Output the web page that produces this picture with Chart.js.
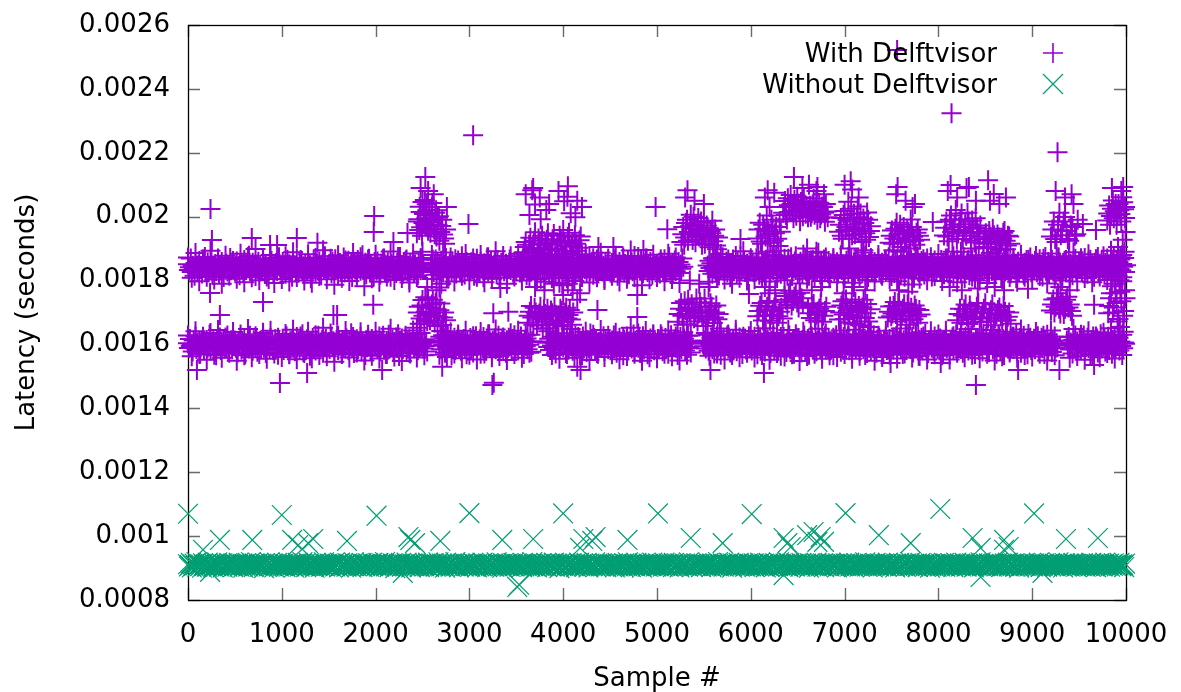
<!DOCTYPE html>
<html><head><meta charset="utf-8">
<script src="https://cdn.jsdelivr.net/npm/chart.js@4/dist/chart.umd.min.js"></script>
<style>html,body{margin:0;padding:0;background:#fff;}canvas{display:block;}</style>
</head><body>
<canvas id="c" width="1181" height="692"></canvas>
<script>
// ---- data (latencies in microseconds) ----
const seriesNames = ["With Delftvisor", "Without Delftvisor"];
const sampleStep = 10; // band arrays hold every 10th sample (#0, #10, #20 ...)
const fringeStep = 40; // fringe arrays hold every 40th sample
const xTickValues = [0,1000,2000,3000,4000,5000,6000,7000,8000,9000,10000];
const yTickValues = [0.0008,0.001,0.0012,0.0014,0.0016,0.0018,0.002,0.0022,0.0024,0.0026];

// "With Delftvisor": upper band (~0.00184 s), null where the band is absent
const withUpperUs = [
1851,1833,1842,1869,1827,1846,1838,1815,1855,1840,1829,1848,1861,1836,1844,1822,1850,1839,1874,1831,1845,1857,1826,1842,1835,1863,1818,1847,1838,1852,1830,1841,1866,1824,1849,1836,1858,1843,1811,1845,1834,1853,1828,1846,1839,1871,1832,1844,1856,1837,
1829,1846,1860,1835,1842,1817,1853,1838,1847,1825,1864,1841,1833,1850,1843,1878,1831,1845,1823,1856,1839,1848,1814,1844,1836,1859,1827,1849,1840,1832,1868,1845,1821,1852,1837,1843,1805,1847,1834,1861,1842,1826,1850,1838,1855,1830,1846,1873,1841,1835,
1844,1858,1832,1847,1821,1840,1865,1836,1851,1828,1843,1812,1855,1839,1846,1830,1870,1842,1825,1849,1837,1862,1833,1845,1819,1853,1841,1829,1857,1838,1848,1807,1844,1835,1866,1840,1824,1852,1846,1831,1860,1838,1817,1850,1843,1834,1876,1839,1827,1848,
1836,1852,1841,1823,1859,1845,1832,1867,1839,1848,1816,1843,1855,1830,1846,1837,1872,1825,1850,1841,1834,1862,1828,1844,1853,1811,1840,1857,1835,1847,1822,1864,1838,1849,1831,1845,1879,1833,1842,1856,1820,1846,1839,1868,1827,1851,1836,1843,1814,1858,
1847,1831,1860,1838,1844,1819,1853,1842,1835,1869,1826,1848,1840,1857,1829,1845,1812,1851,1837,1863,1833,1846,1824,1855,1841,1830,1874,1839,1849,1821,1858,1843,1834,1866,1828,1847,1803,1852,1838,1845,1861,1826,1850,1836,1843,1817,1856,1840,1832,1870,
1838,1852,null,null,null,null,null,null,null,1846,1833,1865,1827,1849,1841,1818,1856,1836,1847,1830,1862,1843,1825,1851,1839,1871,1834,1845,1813,1853,1840,1828,1860,1844,1835,1867,1822,1848,1838,1855,1831,1846,1876,1837,1850,1819,1842,1858,1833,1845,
1843,1829,1857,1836,1848,1815,1852,1840,1868,1832,1845,1824,1859,1838,1847,1810,1854,1835,1843,1872,1828,1850,1839,1861,1826,1846,1834,1857,1841,1820,1864,1837,1849,1831,1855,1844,1877,1829,1842,1853,1818,1847,1836,1866,1833,1851,1839,1823,1858,1845,
1832,1860,1841,1847,1825,1855,1838,1869,1830,1844,1851,1817,1846,1836,1863,1842,1828,1853,1840,1874,1833,1848,1821,1857,1839,1845,1806,1850,1837,1866,1829,1852,1843,1835,1861,1824,1847,1840,1870,1831,1854,1838,1816,1849,1844,1827,1862,1836,1851,1842,
1849,1835,1864,1828,1843,1856,1819,1846,1838,1871,1832,1851,1840,1823,1858,1845,1834,1867,1829,1848,1811,1853,1841,1836,1862,1826,1847,1839,1875,1831,1850,1843,1818,1857,1837,1845,1866,1824,1852,1840,1833,1860,1828,1846,1807,1855,1842,1835,1869,1838,
1841,1826,1855,1847,1833,1866,1839,1850,1815,1844,1858,1830,1848,1837,1872,1825,1852,1843,1834,1861,1820,1846,1838,1857,1829,1849,1877,1835,1843,1812,1856,1840,1831,1865,1846,1823,1853,1838,1845,1869,1827,1850,1836,1859,1842,1818,1854,1833,1847,1840,
1853,1836,1845,1822,1860,1839,1848,1831,1867,1843,1826,1855,1840,1874,1833,1849,1814,1852,1838,1863,1829,1846,1841,1858,1824,1850,1837,1869,1843,null,null,null,null,null,null,null,null,null,null,null,null,null,null,null,null,null,null,null,null,null,null,
null,null,null,1847,1830,1862,1839,1854,1821,1845,1836,1868,1828,1851,1842,1816,1857,1834,1848,1873,1831,1846,1839,1860,1825,1852,1843,1810,1855,1837,1866,1829,1849,1840,1821,1858,1835,1847,1876,1832,1850,1838,1863,1827,1845,1853,1819,1844,1836,1861,
1839,1856,1827,1848,1843,1870,1832,1851,1818,1845,1837,1863,1829,1853,1841,1809,1857,1835,1846,1866,1824,1850,1840,1832,1859,1844,1877,1828,1848,1836,1862,1821,1852,1843,1834,1868,1830,1846,1815,1855,1839,1847,1873,1826,1851,1838,1860,1833,1844,1822,
1848,1831,1859,1842,1824,1853,1837,1869,1829,1846,1840,1815,1856,1835,1850,1864,1827,1845,1838,1875,1832,1852,1841,1819,1858,1836,1847,1866,1826,1849,1843,1830,1861,1807,1854,1839,1846,1871,1828,1851,1835,1857,1822,1844,1840,1867,1833,1850,1817,1845,
1835,1862,1844,1826,1850,1839,1871,1830,1847,1855,1818,1843,1836,1866,1828,1852,1841,1859,1823,1846,1837,1878,1832,1849,1811,1854,1840,1864,1829,1845,1838,1857,1825,1851,1843,1869,1831,1847,1820,1856,1836,1844,1862,1827,1850,1839,1873,1833,1846,1814,
1851,1838,1824,1858,1843,1867,1830,1846,1839,1816,1853,1835,1872,1828,1848,1841,1860,1822,1845,1837,1865,1831,1851,1809,1855,1840,1846,1876,1826,1849,1836,1861,1833,1844,1819,1857,1842,1869,1829,1847,1838,1854,1813,1850,1835,1863,1843,1827,1852,1840,
1843,1829,1864,1837,1852,1820,1846,1858,1833,1870,1841,1826,1855,1838,1848,1812,1859,1836,1845,1867,1831,1850,1842,1823,1857,1839,1874,1828,1847,1835,1862,1844,1817,1853,1840,1866,1830,1849,1806,1856,1837,1845,1871,1825,1851,1843,1832,1860,1839,1848,
1836,1855,1842,1819,1861,1847,1830,1868,1838,1852,1825,1845,1873,1833,1849,1840,1814,1857,1836,1863,1828,1846,1841,1877,1831,1853,1822,1848,1838,1866,1834,1851,1808,1845,1859,1827,1843,1869,1839,1850,1818,1856,1835,1864,1829,1847,1841,1872,1826,1853,
1849,1834,1861,1843,1826,1856,1838,1867,1831,1847,1813,1852,1840,1874,1829,1845,1858,1822,1850,1837,1865,1833,1848,1842,1819,1857,1836,1870,1828,1851,1844,1810,1855,1839,1862,1825,1846,1841,1876,1832,1853,1837,1817,1859,1843,1868,1830,1849,1838,1856,
1840,1857,1828,1850,1844,1871,1833,1846,1821,1859,1838,1865,1830,1852,1843,1812,1856,1836,1848,1874,1826,1853,1840,1862,1831,1847,1818,1855,1842,1869,1834,1851,1838,1824,1860,1845,1877,1829,1849,1841,1815,1858,1836,1866,1832,1852,1843,1871,1827,1848];

// "With Delftvisor": wider scatter around the upper band (every 40th sample)
const withUpperFringeUs = [
1872,1809,1886,1798,1866,1812,1893,1803,1869,1790,1878,1815,1861,1806,1884,1795,1874,1810,1899,1801,1867,1813,1880,1792,1870,
1805,1876,1797,1889,1811,1864,1800,1882,1793,1871,1814,1895,1804,1868,1787,1879,1809,1863,1799,1886,1812,1873,1782,1866,1807,
1881,1796,1868,1813,1891,1802,1874,1808,1862,1794,1885,1811,1870,null,null,1805,1866,1778,1888,1810,1872,1797,1863,1815,1883,
1801,1869,1812,1880,1795,1873,1806,1892,1809,1865,1790,1876,1813,1884,1800,1867,1811,1897,1803,1871,1796,1879,1808,1864,1793,
1875,1807,1890,1799,1866,1813,1882,1794,1870,1810,1887,1802,1863,1815,1878,1797,1868,1806,1894,1811,1874,1785,1869,1804,1881,
1811,1867,1798,1884,1805,1872,1792,null,null,null,null,null,null,null,1796,1869,1812,1883,1803,1866,1790,1877,1809,1892,1800,
1870,1804,1885,1812,1865,1797,1878,1808,1893,1801,1868,1814,1876,1791,1881,1806,1863,1810,1887,1799,1872,1813,1866,1795,1879,
1808,1874,1793,1866,1811,1888,1802,1871,1797,1880,1815,1864,1805,1895,1798,1869,1812,1877,1788,1883,1806,1867,1801,1873,1814,
1883,1799,1869,1810,1876,1795,1890,1807,1864,1813,1879,1800,1872,1792,1886,1809,1866,1804,1898,1811,1870,1796,1881,1812,1865,
1803,1877,1814,1868,1791,1885,1806,1873,1800,1864,1811,1889,1797,1870,1808,1882,1795,1867,1813,1876,1802,1893,1809,1871,1798];

// "With Delftvisor": lower band (~0.0016 s)
const withLowerUs = [
1604,1589,1617,1595,1601,1578,1612,1598,1625,1586,1606,1593,1610,1571,1603,1597,1620,1584,1608,1599,1614,1590,1602,1631,1581,1607,1596,1615,1588,1605,1566,1611,1594,1600,1622,1583,1609,1597,1617,1587,1604,1592,1628,1579,1606,1599,1613,1585,1603,1595,
1612,1590,1599,1575,1608,1596,1622,1584,1605,1601,1617,1569,1603,1593,1610,1587,1627,1597,1604,1580,1613,1599,1591,1619,1577,1607,1598,1611,1586,1602,1634,1590,1606,1573,1614,1596,1603,1588,1621,1594,1609,1583,1600,1616,1592,1605,1568,1611,1597,1603,
1596,1618,1583,1606,1599,1626,1588,1603,1571,1610,1595,1614,1590,1607,1579,1601,1623,1593,1609,1584,1604,1598,1632,1576,1611,1600,1587,1616,1594,1605,1565,1608,1597,1620,1589,1603,1581,1612,1599,1627,1586,1606,1592,1615,1574,1609,1600,1618,1591,1604,
1608,1586,1601,1621,1593,1610,1577,1605,1598,1629,1583,1612,1596,1603,1570,1614,1592,1607,1587,1619,1600,1582,1610,1595,1635,1589,1604,1573,1611,1597,1616,1585,1606,1599,1624,1578,1609,1594,1602,1567,1613,1591,1620,1598,1605,1580,1617,1593,1608,1601,
1595,1613,1588,1604,1625,1579,1609,1597,1618,1584,1602,1570,1611,1596,1630,1587,1606,1599,1615,1576,1608,1593,1622,1589,1603,1564,1612,1598,1619,1585,1605,1601,1627,1581,1610,1594,1616,1572,1607,1600,1621,1588,1604,1596,1633,1582,1609,1591,1614,1599,
1603,1587,1616,1594,1608,1578,null,null,null,null,null,null,null,null,null,null,null,1612,1596,1624,1585,1605,1599,1619,1574,1609,1593,1628,1588,1604,1601,1566,1613,1597,1621,1583,1607,1595,1631,1590,1606,1580,1611,1598,1617,1586,1603,1569,1610,1594,
1601,1620,1589,1607,1575,1612,1596,1626,1584,1605,1599,1616,1571,1609,1593,1623,1587,1603,1580,1614,1597,1632,1590,1606,1568,1611,1600,1619,1585,1604,1595,1627,1578,1608,1592,1615,1583,1610,1598,1574,1613,1589,1621,1594,1606,1582,1617,1600,1629,1587,
1596,1614,1581,1608,1601,1625,1588,1604,1570,1612,1594,1619,1585,1607,1599,1630,1577,1610,null,null,null,null,null,null,null,null,null,null,null,null,null,null,null,1605,1592,1618,1583,1609,1597,1624,1589,1603,1572,1613,1595,1620,1586,1606,1600,1627,
1591,1609,1598,1573,1616,1602,1587,1622,1595,1606,1580,1613,1599,1628,1584,1604,1593,1619,1567,1610,1597,1625,1588,1605,1601,1576,1614,1590,1608,1634,1583,1603,1596,1620,1586,1611,1599,1571,1607,1594,1617,1589,1604,1626,1579,1612,1597,1603,1585,1615,
1606,1583,1612,1597,1628,1589,1603,1574,1610,1595,1621,1586,1608,1600,1566,1615,1592,1604,1625,1581,1609,1598,1618,1587,1603,1631,1578,1611,1594,1606,1590,1620,1573,1607,1599,1626,1584,1613,1596,1602,1569,1610,1593,1619,1588,1605,1632,1582,1608,1597,
1600,1617,1585,1609,1594,1625,1579,1606,1598,1620,1588,1603,1571,1612,1596,1629,1583,1608,1601,1615,1590,1605,1567,1614,1597,1623,1586,1604,1599,1618,1581,1610,1593,1627,1589,1606,1575,1611,null,null,null,null,null,null,null,null,null,null,null,1602,
1594,1612,1587,1605,1630,1580,1609,1598,1621,1585,1603,1572,1614,1596,1625,1590,1607,1599,1568,1611,1593,1619,1583,1604,1601,1628,1588,1610,1575,1606,1597,1616,1586,1603,1634,1579,1608,1595,1622,1591,1605,1570,1613,1598,1618,1584,1606,1600,1626,1589,
1607,1581,1613,1596,1624,1588,1603,1569,1610,1599,1619,1585,1606,1594,1631,1578,1609,1597,1616,1590,1604,1573,1612,1600,1627,1586,1605,1593,1620,1582,1608,1598,1565,1614,1595,1623,1589,1603,1576,1611,1601,1629,1584,1607,1596,1617,1571,1610,1592,1621,
1598,1620,1587,1606,1575,1613,1595,1628,1583,1604,1600,1617,1568,1609,1592,1624,1586,1605,1597,1633,1579,1611,1594,1618,1589,1603,1572,1614,1599,1626,1584,1607,1596,1621,1580,1610,1593,1602,1566,1615,1598,1629,1588,1606,1591,1619,1577,1608,1601,1623,
1610,1589,1616,1596,1627,1582,1605,1599,1572,1612,1594,1622,1587,1607,1601,1631,1578,1609,1595,1618,1585,1604,1567,1613,1598,1625,1590,1606,1580,1614,1597,1629,1586,1603,1574,1611,1593,1620,1588,1607,1600,1569,1615,1596,1624,1583,1608,1592,1617,1579,
1593,1615,1584,1608,1600,1626,1577,1611,1596,1620,1589,1605,1570,1613,1598,1630,1583,1607,1594,1618,1586,1603,1623,1575,1610,1597,1628,1588,1606,1565,1614,1599,1621,1582,1609,1595,1633,1587,1604,1573,1612,1600,1619,1590,1607,1581,1625,1596,1611,1585,
1605,1582,1619,1597,1609,1573,1614,1593,1627,1588,1604,1600,1568,1612,1595,1622,1584,1608,1599,1632,1579,1610,1592,1617,1586,1606,1574,1613,1598,1625,1590,1603,1581,1616,1596,1629,1587,1607,1601,1570,1611,1594,1620,1583,1609,1597,1624,1578,1612,1600,
1597,1623,1588,1606,1576,1614,1600,1631,1585,1608,1594,1619,1571,1611,1598,1626,1582,1605,1592,1616,1567,1612,1596,1629,1589,1603,1580,1617,1599,1624,1586,1607,1593,1634,1578,1610,1601,1620,1574,1613,1595,1627,1587,1604,1599,1569,1615,1591,1621,1583,
1608,1592,1618,1585,1605,1599,1626,1578,1611,1596,1621,1588,1603,1570,1614,1597,1630,1583,1607,1594,1617,1576,1610,1600,1625,1589,1604,1591,null,null,null,null,null,null,null,null,null,1612,1598,1623,1584,1606,1601,1572,1615,1593,1628,1587,1609,1596,
1601,1616,1586,1609,1595,1628,1580,1606,1598,1621,1589,1604,1567,1613,1597,1625,1584,1608,1592,1619,1575,1611,1600,1632,1587,1605,1594,1617,1578,1610,1596,1624,1583,1607,1599,1571,1614,1590,1627,1586,1603,1598,1620,1581,1609,1595,1630,1588,1606,1602];

// "With Delftvisor": wider scatter around the lower band (every 40th sample)
const withLowerFringeUs = [
1628,1563,1641,1571,1624,1552,1636,1568,1645,1558,1622,1574,1639,1549,1631,1566,1648,1560,1626,1570,1637,1555,1643,1572,1621,
1561,1633,1569,1646,1554,1625,1573,1640,1557,1629,1567,1652,1563,1634,1546,1627,1571,1642,1559,1623,1575,1638,1550,1630,1565,
1640,1556,1627,1570,1649,1562,1632,1548,1624,1574,1644,1559,1636,1566,null,null,null,1568,1629,1561,1638,1572,1625,1557,1643,
1568,1626,1553,1639,1572,1631,1560,1647,1564,1622,1551,1635,1570,1643,1558,1628,1574,null,null,null,null,1641,1567,1624,1555,
1635,1570,1648,1558,1623,1566,1640,1551,1630,1573,1645,1561,1627,1569,1637,1554,1621,1564,1652,1571,1634,1549,1642,1560,1629,
1557,1632,1571,1644,1563,1625,1550,1638,1568,1628,null,null,null,1636,1565,1622,1572,1641,1553,1631,1567,1646,1560,1624,1574,
1642,1559,1629,1567,1651,1552,1637,1573,1623,1562,1645,1569,1632,1548,1640,1564,1626,1571,1649,1555,1635,1566,1621,1561,1644,
1570,1624,1555,1646,1565,1633,1573,1639,1549,1627,1561,1643,1568,1622,1556,1650,1572,1630,1559,1637,1564,1625,1553,1641,1569,
1631,1566,1643,1553,1626,1574,1638,1560,1648,1568,1621,1557,1634,1571,1645,1550,1629,1563,1640,1575,1624,1558,1647,1567,1633,
1562,1639,1571,1627,1550,1644,1566,null,null,null,1558,1648,1564,1630,1552,1641,1569,1625,1560,1637,1573,1651,1556,1628,1567];

// "With Delftvisor": shifted-up clusters above the upper band [sample, us]
const withHighClusters = [
[2440,1948],[2455,1992],[2470,2031],[2485,1967],[2500,2046],[2515,2008],[2530,1975],[2545,2039],[2560,1956],[2575,2021],[2590,1988],[2605,2043],[2620,1962],[2635,2012],[2650,1938],[2665,1997],[2680,1925],[2700,1971],[2720,1944],[2740,1915],
[2450,1985],[2465,1958],[2480,2015],[2495,1940],[2510,1980],[2525,2052],[2540,1995],[2555,1970],[2570,2005],[2585,1950],[2600,2030],[2615,1982],[2630,1945],[2645,2020],[2660,1975],[2675,2001],[2690,1952],[2710,1990],[2730,1932],[2750,1960],
[3580,1889],[3600,1921],[3625,1878],[3650,1934],[3675,1902],[3700,1951],[3725,1886],[3750,1917],[3775,1940],[3800,1895],[3825,1928],[3850,1881],[3875,1912],[3900,1946],[3925,1899],[3950,1873],[3975,1924],[4000,1958],[4025,1907],[4050,1937],[4075,1885],[4100,1919],[4125,1942],[4150,1893],[4175,1926],[4200,1880],
[3590,1905],[3612,1870],[3637,1912],[3662,1890],[3688,1925],[3712,1866],[3737,1932],[3762,1901],[3787,1879],[3812,1915],[3837,1948],[3862,1897],[3887,1929],[3912,1876],[3937,1918],[3962,1940],[3987,1893],[4012,1921],[4037,1884],[4062,1950],[4087,1908],[4112,1872],[4137,1915],[4162,1903],[4187,1938],
[3640,2005],[3700,2038],[3760,1992],[3820,2021],[4010,2048],[4080,2011],[4130,1998],
[5260,1921],[5280,1968],[5300,1935],[5320,1990],[5340,1952],[5360,2006],[5380,1927],[5400,1975],[5420,1943],[5440,1996],[5460,1958],[5480,1912],[5500,1981],[5520,1939],[5540,1965],[5560,1904],[5580,1948],[5600,1923],[5620,1960],[5640,1898],
[5270,1945],[5290,1912],[5310,1980],[5330,1925],[5350,1970],[5370,1950],[5390,2000],[5410,1920],[5430,1962],[5450,1938],[5470,1985],[5490,1946],[5510,1915],[5530,1972],[5550,1931],[5570,1955],[5590,1987],[5610,1940],[5630,1910],[5650,1935],
[6070,1932],[6095,1981],[6120,1915],[6145,1962],[6170,2004],[6195,1944],[6220,1990],[6245,1925],[6270,1968],[6295,1908],[6320,1953],
[6082,1960],[6107,1922],[6132,1975],[6157,1938],[6182,1955],[6207,1918],[6232,1970],[6257,1948],[6282,1931],[6307,1985],
[6345,2012],[6365,2049],[6385,1991],[6405,2036],[6425,2068],[6445,2018],[6465,2052],[6485,2003],[6505,2041],[6525,1986],[6545,2027],[6565,2060],[6585,2009],
[6355,2030],[6375,2005],[6395,2058],[6415,2015],[6435,2040],[6455,1995],[6475,2033],[6495,2062],[6515,2020],[6535,2046],[6555,2001],[6575,2038],[6595,2025],
[6610,1998],[6630,2034],[6650,2011],[6670,2057],[6690,2021],[6710,1990],[6730,2043],[6750,2007],[6770,2030],[6790,1984],[6810,2016],
[6620,2020],[6640,2000],[6660,2038],[6680,2006],[6700,2048],[6720,2015],[6740,1995],[6760,2032],[6780,2012],[6800,2040],[6820,1998],
[6940,1953],[6960,1996],[6980,1931],[7000,2018],[7020,1968],[7040,2047],[7060,1985],[7080,1942],[7100,2009],[7120,1960],[7140,2032],[7160,1977],[7180,1921],[7200,1994],[7220,1948],[7240,2013],[7260,1936],[7280,1970],
[6950,1975],[6970,1940],[6990,2005],[7010,1958],[7030,1990],[7050,1932],[7070,2025],[7090,1965],[7110,1945],[7130,1998],[7150,1955],[7170,2010],[7190,1962],[7210,1980],[7230,1928],[7250,1990],[7270,1955],
[7480,1918],[7505,1957],[7530,1932],[7555,1981],[7580,1946],[7605,1905],[7630,1968],[7655,1924],[7680,1953],[7705,1991],[7730,1937],[7755,1912],[7780,1960],[7805,1928],
[7492,1940],[7517,1915],[7542,1962],[7567,1930],[7592,1975],[7617,1945],[7642,1920],[7667,1958],[7692,1935],[7717,1968],[7742,1925],[7767,1950],[7792,1940],
[8060,1941],[8085,1985],[8110,1923],[8135,2004],[8160,1959],[8185,2021],[8210,1947],[8235,1992],[8260,1930],[8285,1976],[8310,2012],[8335,1952],[8360,1988],[8385,1919],[8410,1966],[8435,1937],
[8072,1965],[8097,1938],[8122,1990],[8147,1952],[8172,1975],[8197,1930],[8222,1968],[8247,2010],[8272,1955],[8297,1940],[8322,1985],[8347,1925],[8372,1962],[8397,1995],[8422,1948],[8447,1972],
[8480,1915],[8505,1948],[8530,1901],[8555,1937],[8580,1962],[8605,1920],[8630,1944],[8655,1896],[8680,1931],[8705,1955],[8730,1910],[8755,1938],
[8492,1930],[8517,1905],[8542,1955],[8567,1922],[8592,1942],[8617,1900],[8642,1935],[8667,1918],[8692,1950],[8717,1925],[8742,1940],[8767,1915],
[9200,1938],[9230,1985],[9260,1921],[9290,2012],[9320,1957],[9350,1999],[9380,1930],[9410,1972],[9440,2040],[9470,1945],
[9215,1960],[9245,1930],[9275,1975],[9305,1942],[9335,1985],[9365,1955],[9395,1925],[9425,1968],[9455,1940],[9485,1990],
[9800,1988],[9820,2035],[9840,2002],[9860,2051],[9880,2017],[9900,1975],[9920,2040],[9940,2008],[9960,2061],[9980,2023],[9990,1996],
[9810,2010],[9830,1975],[9850,2025],[9870,1995],[9890,2040],[9910,2005],[9930,2020],[9950,1985],[9970,2045],[9990,2030],
[9915,1905],[9945,1873],[9965,1928],[9985,1890],[9995,1952]];

// "With Delftvisor": shifted-up clusters above the lower band [sample, us]
const withLowClusters = [
[2440,1652],[2460,1718],[2480,1681],[2500,1739],[2520,1665],[2540,1702],[2560,1744],[2580,1676],[2600,1725],[2620,1690],[2640,1731],[2660,1658],[2680,1707],[2700,1642],[2720,1684],[2745,1628],
[2450,1700],[2470,1665],[2490,1722],[2510,1690],[2530,1748],[2550,1673],[2570,1715],[2590,1696],[2610,1740],[2630,1668],[2650,1710],[2670,1685],[2690,1728],[2710,1661],[2730,1700],[2750,1676],
[3620,1668],[3645,1702],[3670,1684],[3695,1715],[3720,1659],[3745,1697],[3770,1679],[3795,1710],[3820,1651],[3845,1689],[3870,1706],[3895,1664],[3920,1693],[3945,1675],[3970,1712],[3995,1656],[4020,1699],[4045,1681],[4070,1708],[4095,1662],
[3632,1690],[3657,1720],[3682,1662],[3707,1700],[3732,1685],[3757,1718],[3782,1649],[3807,1695],[3832,1712],[3857,1672],[3882,1698],[3907,1719],[3932,1660],[3957,1690],[3982,1705],[4007,1670],[4032,1715],[4057,1692],[4082,1678],[4107,1700],
[4000,1755],[4050,1790],[4100,1770],[4150,1740],[3990,1785],
[5220,1671],[5245,1712],[5270,1690],[5295,1735],[5320,1663],[5345,1704],[5370,1726],[5395,1682],[5420,1744],[5445,1697],[5470,1718],[5495,1658],[5520,1709],[5545,1686],[5570,1729],[5595,1667],[5620,1700],[5645,1679],[5670,1650],
[5232,1695],[5257,1730],[5282,1662],[5307,1708],[5332,1740],[5357,1686],[5382,1715],[5407,1700],[5432,1672],[5457,1732],[5482,1690],[5507,1744],[5532,1677],[5557,1702],[5582,1718],[5607,1684],[5632,1722],[5657,1695],
[6070,1688],[6100,1721],[6130,1675],[6160,1709],[6190,1736],[6220,1693],[6250,1716],[6280,1668],[6310,1702],[6340,1681],
[6085,1705],[6115,1730],[6145,1690],[6175,1718],[6205,1674],[6235,1708],[6265,1732],[6295,1688],[6325,1715],
[6360,1752],[6390,1724],[6420,1768],[6450,1737],[6480,1759],[6510,1716],[6540,1745],
[6375,1740],[6405,1760],[6435,1722],[6465,1750],[6495,1731],[6525,1762],[6555,1728],
[6610,1715],[6640,1683],[6670,1727],[6700,1694],[6730,1712],[6760,1671],[6790,1705],
[6625,1698],[6655,1720],[6685,1676],[6715,1703],[6745,1729],[6775,1690],[6805,1718],
[6940,1678],[6965,1722],[6990,1694],[7015,1741],[7040,1669],[7065,1710],[7090,1687],[7115,1733],[7140,1700],[7165,1660],[7190,1716],[7215,1683],[7240,1727],[7265,1655],
[6952,1700],[6977,1735],[7002,1680],[7027,1715],[7052,1692],[7077,1728],[7102,1665],[7127,1705],[7152,1720],[7177,1685],[7202,1740],[7227,1698],[7252,1672],[7277,1710],
[7460,1684],[7485,1719],[7510,1697],[7535,1733],[7560,1672],[7585,1708],[7610,1690],[7635,1726],[7660,1662],[7685,1703],[7710,1715],[7735,1679],[7760,1711],[7785,1668],[7810,1694],
[7472,1702],[7497,1688],[7522,1720],[7547,1695],[7572,1730],[7597,1680],[7622,1712],[7647,1698],[7672,1725],[7697,1676],[7722,1700],[7747,1722],[7772,1688],[7797,1708],
[8200,1676],[8230,1712],[8260,1691],[8290,1725],[8320,1664],[8350,1703],[8380,1684],[8410,1718],[8440,1670],[8470,1699],[8500,1729],[8530,1681],[8560,1707],[8590,1660],[8620,1695],[8650,1716],[8680,1674],[8710,1702],[8740,1687],[8770,1665],
[8215,1695],[8245,1668],[8275,1710],[8305,1688],[8335,1722],[8365,1680],[8395,1700],[8425,1730],[8455,1685],[8485,1712],[8515,1672],[8545,1698],[8575,1725],[8605,1682],[8635,1708],[8665,1690],[8695,1720],[8725,1676],[8755,1700],
[9200,1706],[9225,1741],[9250,1718],[9275,1760],[9300,1697],[9325,1733],[9350,1712],[9375,1749],[9400,1725],[9425,1690],
[9212,1725],[9237,1700],[9262,1745],[9287,1712],[9312,1730],[9337,1695],[9362,1740],[9387,1716],[9412,1705],
[9810,1698],[9830,1745],[9850,1782],[9870,1716],[9890,1760],[9910,1672],[9930,1801],[9950,1735],[9970,1690],[9990,1770],[9935,1655],[9975,1640],
[9820,1720],[9840,1760],[9860,1700],[9880,1790],[9900,1730],[9920,1680],[9940,1765],[9960,1810],[9980,1705],[9995,1745]];

// "With Delftvisor": taller scatter columns around the clusters [sample, us]
const withColumnScatter = [
[2480,2090],[2560,2080],[2620,2070],[2500,1890],[2600,1880],[2550,1780],[2650,1770],[2700,1790],
[3600,2070],[3680,2090],[3750,2060],[3850,2040],[3950,2080],[4050,2095],[4150,2050],[4200,2030],[3700,1780],[3800,1770],[3900,1790],[4100,1800],[4180,1760],
[5300,2060],[5400,2050],[5500,2040],[5350,1800],[5450,1790],[5550,1780],[5600,1870],[5650,1860],
[6150,2060],[6200,2030],[6250,2075],[6180,1890],[6230,1880],[6150,1780],[6260,1770],[6200,1760],
[6550,2090],[6620,2100],[6700,2080],[6780,2070],[6600,1900],[6700,1890],[6650,1770],[6750,1780],
[7000,2100],[7080,2085],[7150,2060],[7050,1900],[7200,1895],[7100,1780],[7220,1770],[6990,1760],
[7550,2070],[7650,2050],[7750,2040],[7600,1890],[7700,1900],[7580,1770],[7680,1765],
[8100,2080],[8200,2060],[8300,2090],[8400,2050],[8150,1890],[8350,1900],[8120,1780],[8250,1770],[8420,1775],
[8550,2050],[8650,2040],[8720,2060],[8600,1780],[8700,1770],
[9250,2080],[9350,2060],[9420,2070],[9300,1780],[9400,1770],
[9850,2090],[9950,2080],[9900,1860],[9960,1880]];

// "With Delftvisor": isolated outliers [sample, us]
const withOutliers = [
[3040,2255],[8140,2324],[9270,2202],[7560,2522],[240,2024],[1985,2002],[1980,1952],[2990,1977],[2760,2030],[4985,2030],
[2530,2124],[3670,2083],[4045,2062],[5325,2083],[6180,2083],[6460,2124],[6710,2093],[7065,2111],[7565,2093],[7725,2030],
[8130,2099],[8325,2093],[8530,2114],[8590,2071],[9970,2093],[9540,1977],[9680,1958],[5110,1961],[5890,1930],[7940,1983],
[950,1911],[680,1933],[1160,1933],[1380,1918],[2190,1921],[2340,1949],[4375,1905],[4535,1905],[4855,1896],[255,1927],[875,1911],
[980,1479],[3245,1473],[3260,1480],[95,1520],[1270,1511],[2070,1520],[2710,1530],[4150,1530],[4185,1520],
[800,1733],[1975,1724],[1590,1692],[340,1692],[1550,1692],[3255,1698],[3415,1702],[4365,1708],[4790,1686],
[235,1761],[4790,1755],[3330,1777],[8955,1774],[5980,1758],[9660,1724],
[5570,1520],[6140,1511],[7490,1542],[8025,1542],[8400,1473],[8850,1520],[9290,1520],[9660,1536]];

// "Without Delftvisor": main band (~0.00091 s)
const withoutBandUs = [
912,905,909,916,902,911,907,914,908,919,904,910,913,906,911,901,915,909,907,912,904,917,910,906,913,908,911,903,914,909,906,918,910,905,912,908,915,902,909,911,907,913,904,910,916,906,912,909,903,914,
908,913,906,910,917,904,911,909,914,901,912,907,915,910,905,913,908,919,906,911,903,914,909,912,906,916,910,904,913,908,911,900,915,907,910,913,905,918,909,912,906,914,902,911,908,916,910,905,913,909,
911,906,915,909,903,912,908,917,905,910,914,907,911,902,913,909,906,916,910,904,912,908,919,906,911,914,903,910,907,915,909,912,905,913,908,901,916,910,906,912,909,914,904,911,907,918,905,910,913,908,
906,914,910,903,912,908,916,905,911,909,913,902,917,907,910,914,906,912,909,904,915,908,911,913,901,910,906,918,909,912,905,914,908,911,907,916,903,910,913,906,912,909,915,904,911,908,917,906,910,912,
913,907,911,916,904,910,908,914,906,912,919,905,910,909,913,903,911,907,915,908,912,900,914,910,906,913,909,916,904,911,908,912,906,917,910,905,913,909,902,914,907,911,908,915,906,912,910,903,913,909,
909,912,905,914,910,907,917,903,911,908,913,906,915,910,904,912,909,918,907,911,905,914,908,912,901,916,909,906,913,910,904,915,908,911,907,919,906,912,909,903,914,910,908,913,905,916,909,911,906,912,
910,904,913,908,916,906,911,909,902,914,907,912,910,905,917,908,913,906,911,903,915,909,912,907,910,914,904,911,908,918,905,912,909,913,906,901,915,910,908,912,906,914,909,904,913,911,907,916,905,910,
914,908,911,905,912,909,903,916,907,913,910,906,915,908,911,904,912,919,906,910,908,914,902,911,909,913,907,915,905,910,912,908,916,903,911,909,914,906,912,908,917,904,910,913,907,911,900,915,909,912,
907,911,916,904,910,913,908,912,905,915,909,906,911,914,903,910,908,917,906,912,909,913,905,911,907,916,910,902,914,908,912,906,911,909,918,904,913,910,907,912,905,915,908,911,906,914,903,910,912,909,
912,906,910,914,908,902,913,909,916,905,911,907,913,910,904,915,908,912,906,918,909,911,903,914,910,907,912,905,916,909,911,906,913,908,901,912,910,915,907,911,904,914,909,912,906,917,908,910,913,905,
909,915,906,911,908,913,904,910,917,907,912,909,905,914,910,908,912,903,916,909,911,906,913,910,902,915,908,912,906,911,914,907,910,905,918,909,912,908,904,913,910,907,915,906,911,909,914,903,912,908,
911,907,913,905,910,916,908,912,903,914,909,906,911,913,907,919,905,910,912,908,915,904,911,909,913,906,910,917,907,912,901,914,909,911,906,913,908,916,905,910,912,907,914,909,904,911,908,915,906,913,
906,912,909,915,903,911,907,913,910,905,917,908,912,906,914,909,902,911,908,916,905,913,910,907,912,904,915,909,911,906,918,908,913,910,905,912,909,914,907,911,903,916,910,906,913,908,911,905,914,909,
913,908,911,904,916,909,912,906,910,914,907,911,901,915,908,913,910,906,912,909,917,904,911,908,913,906,910,915,903,912,909,907,914,910,905,916,911,908,912,906,913,909,902,915,907,911,910,914,906,912,
908,914,906,912,910,917,905,911,908,913,903,910,915,907,912,909,904,914,911,906,913,908,918,910,905,912,909,914,906,911,902,913,908,916,910,907,912,905,915,909,911,906,914,908,912,904,917,910,907,913,
910,906,913,909,902,914,908,911,916,905,912,909,907,913,910,904,915,908,911,906,919,909,912,905,913,910,907,914,903,911,909,916,906,912,908,913,905,910,914,907,911,901,915,909,912,906,913,910,904,911,
912,909,905,914,910,907,916,904,911,913,908,910,906,915,909,912,903,913,908,917,906,911,909,914,905,912,910,907,916,909,904,913,911,908,912,906,915,910,902,914,908,911,907,913,909,918,905,912,910,906,
907,913,910,906,915,909,912,904,911,908,914,910,905,916,907,912,909,903,913,910,906,914,908,911,917,905,912,909,913,906,910,915,904,911,908,912,901,914,910,907,913,909,916,906,911,908,912,905,914,910,
911,905,914,908,912,909,906,917,910,903,913,907,911,915,908,910,904,912,909,916,906,913,910,907,914,905,911,909,918,906,912,908,913,902,910,915,907,911,909,914,905,912,910,906,916,908,913,904,911,909,
909,913,906,911,915,908,910,904,914,907,912,910,905,916,909,911,906,913,903,912,908,915,910,907,913,905,911,909,917,906,912,908,914,904,910,912,907,915,909,911,905,913,908,916,910,906,912,909,903,914];

// "Without Delftvisor": outliers [sample, us]
const withoutOutliers = [
[0,1070],[1000,1066],[2010,1064],[3000,1072],[4000,1071],[5010,1071],[6010,1069],[7010,1072],[8020,1085],[9020,1071],
[340,988],[685,988],[1110,988],[1175,972],[1280,978],[1335,991],[1695,985],[2350,997],[2370,988],[2420,978],[2690,985],
[3350,988],[3680,991],[4215,991],[4310,985],[4345,997],[4685,988],[5360,994],[5700,978],[6350,994],[6390,978],[6425,966],
[6600,1003],[6670,1013],[6710,982],[6745,997],[6780,982],[7365,1003],[7705,978],[8365,994],[8450,963],[8700,988],[8750,966],
[9360,991],[9700,994],[3510,841],[3530,848],[2290,885],[235,888],[6350,878],[8450,872],[9110,885],[160,957],[4180,963],[8700,957]];

// ---- build chart data from the arrays ----
const US = 1e-6;
function bandToPoints(arr, step){
  const out = [];
  arr.forEach((v,i)=>{ if (v !== null) out.push({x: i*step, y: v*US}); });
  return out;
}
function pairsToPoints(arr){ return arr.map(p => ({x: p[0], y: p[1]*US})); }

const withData = [].concat(
  bandToPoints(withUpperUs, sampleStep), bandToPoints(withLowerUs, sampleStep),
  bandToPoints(withUpperFringeUs, fringeStep), bandToPoints(withLowerFringeUs, fringeStep),
  pairsToPoints(withHighClusters), pairsToPoints(withLowClusters),
  pairsToPoints(withColumnScatter), pairsToPoints(withOutliers));
const withoutData = [].concat(bandToPoints(withoutBandUs, sampleStep), pairsToPoints(withoutOutliers));

const PURPLE = '#9400d3', GREEN = '#009e73';
const FONT = 'DejaVu Sans';

const frame = {
  id: 'frame',
  beforeDatasetsDraw(chart){
    const {ctx, chartArea: a, scales} = chart;
    ctx.save();
    ctx.strokeStyle = '#6a6a6a'; ctx.lineWidth = 1.4;
    const T = 12;
    xTickValues.forEach(v => {
      const px = Math.round(scales.x.getPixelForValue(v)) + 0.5;
      ctx.beginPath();
      ctx.moveTo(px, a.bottom); ctx.lineTo(px, a.bottom - T);
      ctx.moveTo(px, a.top); ctx.lineTo(px, a.top + T);
      ctx.stroke();
    });
    yTickValues.forEach(v => {
      const py = Math.round(scales.y.getPixelForValue(v)) + 0.5;
      ctx.beginPath();
      ctx.moveTo(a.left, py); ctx.lineTo(a.left + T, py);
      ctx.moveTo(a.right, py); ctx.lineTo(a.right - T, py);
      ctx.stroke();
    });
    ctx.strokeStyle = '#000'; ctx.lineWidth = 1.3;
    ctx.strokeRect(a.left + 0.5, a.top + 0.5, a.right - a.left, a.bottom - a.top);
    ctx.restore();
  },
  afterDatasetsDraw(chart){
    const {ctx} = chart;
    ctx.save();
    ctx.font = '26px "' + FONT + '"';
    ctx.fillStyle = '#000';
    ctx.textAlign = 'right';
    ctx.textBaseline = 'middle';
    const rows = [{y: 53, color: PURPLE, style: 'plus'}, {y: 84, color: GREEN, style: 'x'}];
    rows.forEach((r, i) => {
      ctx.fillText(seriesNames[i], 997, r.y + 2);
      ctx.strokeStyle = r.color;
      ctx.lineWidth = i === 0 ? 1.6 : 1.2;
      ctx.beginPath();
      const cx = 1053, h = 10;
      if (r.style === 'plus') {
        ctx.moveTo(cx - h, r.y); ctx.lineTo(cx + h, r.y);
        ctx.moveTo(cx, r.y - h); ctx.lineTo(cx, r.y + h);
      } else {
        ctx.moveTo(cx - h, r.y - h); ctx.lineTo(cx + h, r.y + h);
        ctx.moveTo(cx - h, r.y + h); ctx.lineTo(cx + h, r.y - h);
      }
      ctx.stroke();
    });
    ctx.restore();
  }
};

new Chart(document.getElementById('c'), {
  type: 'scatter',
  data: {
    datasets: [
      {label: seriesNames[0], data: withData, pointStyle: 'cross', pointRadius: 10,
       borderColor: PURPLE, backgroundColor: PURPLE, pointBorderWidth: 2, borderWidth: 2,
       clip: false, order: 2},
      {label: seriesNames[1], data: withoutData, pointStyle: 'crossRot', pointRadius: 14,
       borderColor: GREEN, backgroundColor: GREEN, pointBorderWidth: 1.2, borderWidth: 1.2,
       clip: false, order: 1}
    ]
  },
  options: {
    responsive: false,
    devicePixelRatio: 1,
    animation: false,
    events: [],
    layout: {autoPadding: false, padding: {top: 25, right: 55, left: 0, bottom: 0}},
    plugins: {legend: {display: false}, tooltip: {enabled: false}},
    scales: {
      x: {
        type: 'linear', min: 0, max: 10000,
        afterBuildTicks: s => { s.ticks = xTickValues.map(v => ({value: v})); },
        afterFit: s => { s.height = 92; s.paddingLeft = 0; s.paddingRight = 0; },
        grid: {display: false, drawTicks: false},
        border: {display: false},
        ticks: {autoSkip: false, maxRotation: 0, padding: 20, color: '#000',
                font: {family: FONT, size: 26}, callback: v => String(v)},
        title: {display: true, text: 'Sample #', color: '#000', font: {family: FONT, size: 26},
                padding: {top: 0, bottom: -3}}
      },
      y: {
        type: 'linear', min: 0.0008, max: 0.0026,
        afterBuildTicks: s => { s.ticks = yTickValues.map(v => ({value: v})); },
        afterFit: s => { s.width = 188; s.paddingTop = 0; s.paddingBottom = 0; },
        grid: {display: false, drawTicks: false},
        border: {display: false},
        ticks: {autoSkip: false, padding: 18, color: '#000',
                font: {family: FONT, size: 26}, callback: v => String(parseFloat(Number(v).toFixed(4)))},
        title: {display: true, text: 'Latency (seconds)', color: '#000', font: {family: FONT, size: 26},
                padding: {top: 12, bottom: 0}}
      }
    }
  },
  plugins: [frame]
});
</script>
</body></html>
